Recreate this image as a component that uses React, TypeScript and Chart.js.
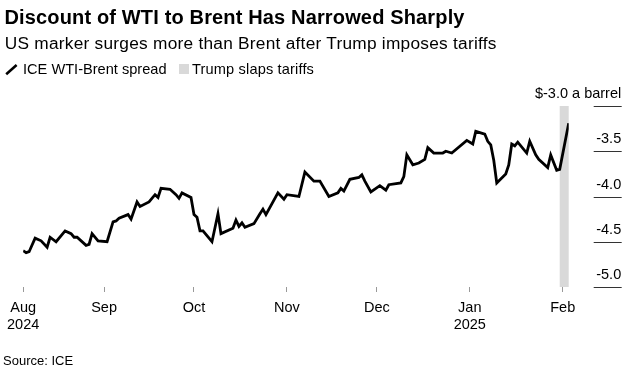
import { useEffect, useRef } from "react";
import { Chart, registerables } from "chart.js";

Chart.register(...registerables);

const FONT = "'Liberation Sans', Arial, Helvetica, sans-serif";

// ICE WTI-Brent spread, $ a barrel
const dates = [
  "2024-08-05", "2024-08-06", "2024-08-07", "2024-08-09", "2024-08-11", "2024-08-13", "2024-08-14",
  "2024-08-16", "2024-08-19", "2024-08-21", "2024-08-22", "2024-08-23", "2024-08-26", "2024-08-27",
  "2024-08-28", "2024-08-30", "2024-09-02", "2024-09-04", "2024-09-05", "2024-09-06", "2024-09-09",
  "2024-09-10", "2024-09-12", "2024-09-13", "2024-09-16", "2024-09-18", "2024-09-19", "2024-09-20",
  "2024-09-23", "2024-09-25", "2024-09-26", "2024-09-27", "2024-09-30", "2024-10-01", "2024-10-02",
  "2024-10-03", "2024-10-04", "2024-10-07", "2024-10-09", "2024-10-10", "2024-10-14", "2024-10-15",
  "2024-10-16", "2024-10-17", "2024-10-18", "2024-10-21", "2024-10-23", "2024-10-24", "2024-10-25",
  "2024-10-29", "2024-10-31", "2024-11-01", "2024-11-05", "2024-11-07", "2024-11-10", "2024-11-12",
  "2024-11-15", "2024-11-18", "2024-11-19", "2024-11-20", "2024-11-22", "2024-11-25", "2024-11-26",
  "2024-11-27", "2024-11-29", "2024-12-02", "2024-12-04", "2024-12-05", "2024-12-09", "2024-12-10",
  "2024-12-11", "2024-12-13", "2024-12-15", "2024-12-17", "2024-12-18", "2024-12-20", "2024-12-23",
  "2024-12-24", "2024-12-26", "2024-12-31", "2025-01-02", "2025-01-03", "2025-01-06", "2025-01-07",
  "2025-01-08", "2025-01-09", "2025-01-10", "2025-01-13", "2025-01-14", "2025-01-15", "2025-01-16",
  "2025-01-17", "2025-01-20", "2025-01-21", "2025-01-23", "2025-01-24", "2025-01-27", "2025-01-28",
  "2025-01-30", "2025-01-31", "2025-02-03",
];

const spread = [
  -4.60, -4.62, -4.61, -4.46, -4.49, -4.56, -4.45,
  -4.50, -4.38, -4.41, -4.45, -4.45, -4.54, -4.53,
  -4.41, -4.49, -4.50, -4.28, -4.27, -4.24, -4.20,
  -4.25, -4.06, -4.11, -4.06, -3.98, -4.01, -3.91,
  -3.92, -3.98, -4.02, -3.96, -4.01, -4.20, -4.23,
  -4.38, -4.38, -4.50, -4.19, -4.41, -4.35, -4.26,
  -4.33, -4.29, -4.34, -4.30, -4.19, -4.14, -4.20,
  -3.96, -4.03, -3.98, -4.00, -3.73, -3.83, -3.83,
  -4.00, -3.96, -3.91, -3.94, -3.81, -3.79, -3.76,
  -3.83, -3.95, -3.88, -3.93, -3.87, -3.85, -3.78,
  -3.54, -3.65, -3.63, -3.59, -3.46, -3.52, -3.52,
  -3.50, -3.52, -3.38, -3.42, -3.28, -3.31, -3.39,
  -3.43, -3.60, -3.85, -3.75, -3.65, -3.42, -3.44,
  -3.40, -3.52, -3.39, -3.54, -3.59, -3.68, -3.54,
  -3.71, -3.70, -3.19,
];

const xTickDates = ["2024-08-05", "2024-09-01", "2024-10-01", "2024-11-01", "2024-12-01", "2025-01-01", "2025-02-01"];
const xTickLabels = [["Aug", "2024"], ["Sep"], ["Oct"], ["Nov"], ["Dec"], ["Jan", "2025"], ["Feb"]];

const yTicks = [-3.0, -3.5, -4.0, -4.5, -5.0];
const yTickLabels = ["$-3.0 a barrel", "-3.5", "-4.0", "-4.5", "-5.0"];

const bandStart = "2025-01-31";
const bandEnd = "2025-02-03";

const ORIGIN = Date.UTC(2024, 7, 1);
function dayNum(s: string): number {
  const [y, m, d] = s.split("-").map(Number);
  return (Date.UTC(y, m - 1, d) - ORIGIN) / 86400000;
}

const bandPlugin = {
  id: "band",
  beforeDatasetsDraw(chart: any) {
    const { ctx, scales } = chart;
    const x1 = scales.x.getPixelForValue(dayNum(bandStart));
    const x2 = scales.x.getPixelForValue(dayNum(bandEnd));
    const y1 = scales.y.getPixelForValue(yTicks[0]);
    const y2 = scales.y.getPixelForValue(yTicks[yTicks.length - 1]);
    ctx.save();
    ctx.fillStyle = "#d9d9d9";
    ctx.fillRect(x1, y1, x2 - x1, y2 - y1);
    ctx.restore();
  },
};

const rightAxisPlugin = {
  id: "rightAxis",
  afterDraw(chart: any) {
    const { ctx, chartArea, scales } = chart;
    ctx.save();
    ctx.font = `14.5px ${FONT}`;
    ctx.textAlign = "right";
    ctx.textBaseline = "alphabetic";
    yTicks.forEach((v, i) => {
      const py = Math.round(scales.y.getPixelForValue(v)) + 0.5;
      ctx.strokeStyle = "#333";
      ctx.lineWidth = 1;
      ctx.beginPath();
      ctx.moveTo(chartArea.right + 25, py);
      ctx.lineTo(chartArea.right + 53, py);
      ctx.stroke();
      ctx.fillStyle = "#000";
      ctx.fillText(yTickLabels[i], chartArea.right + 52.5, py - 8.5);
    });
    ctx.restore();
  },
};

export default function App() {
  const ref = useRef<HTMLCanvasElement>(null);

  useEffect(() => {
    document.body.style.margin = "0";
    const canvas = ref.current;
    if (!canvas) return;
    const tickDays = xTickDates.map(dayNum);
    const chart = new Chart(canvas, {
      type: "line",
      data: {
        datasets: [
          {
            label: "ICE WTI-Brent spread",
            data: dates.map((d, i) => ({ x: dayNum(d), y: spread[i] })),
            borderColor: "#000",
            borderWidth: 2.8,
            pointRadius: 0,
            tension: 0,
            fill: false,
          },
        ],
      },
      options: {
        animation: false,
        responsive: false,
        devicePixelRatio: 1,
        layout: { padding: { left: 22.7, right: 65.3, top: 106, bottom: 0 } },
        plugins: { legend: { display: false }, tooltip: { enabled: false }, title: { display: false } },
        scales: {
          x: {
            type: "linear",
            min: dayNum(dates[0]),
            max: dayNum(dates[dates.length - 1]),
            border: { display: false },
            grid: { drawOnChartArea: false, drawTicks: true, tickLength: 5, color: "#999", lineWidth: 1 },
            ticks: {
              autoSkip: false,
              maxRotation: 0,
              padding: 7,
              color: "#000",
              font: { family: FONT, size: 14.5, lineHeight: "17px" },
              callback: (value: any) => {
                const idx = tickDays.indexOf(Number(value));
                return idx >= 0 ? xTickLabels[idx] : "";
              },
            },
            afterBuildTicks: (scale: any) => {
              scale.ticks = tickDays.map((v) => ({ value: v }));
            },
            afterFit: (scale: any) => {
              scale.height = 90;
            },
          },
          y: {
            display: false,
            min: yTicks[yTicks.length - 1],
            max: yTicks[0],
          },
        },
      },
      plugins: [bandPlugin, rightAxisPlugin],
    } as any);
    return () => chart.destroy();
  }, []);

  return (
    <div
      style={{
        position: "relative",
        width: 634,
        height: 377,
        overflow: "hidden",
        background: "#fff",
        color: "#000",
        fontFamily: FONT,
      }}
    >
      <canvas ref={ref} width={634} height={377} style={{ position: "absolute", left: 0, top: 0 }} />
      <div style={{ position: "absolute", left: 4.5, top: 5.4, fontSize: 20, lineHeight: "24px", fontWeight: 700, letterSpacing: "0.15px", whiteSpace: "nowrap" }}>
        Discount of WTI to Brent Has Narrowed Sharply
      </div>
      <div style={{ position: "absolute", left: 4.7, top: 33, fontSize: 17.3, lineHeight: "20px", letterSpacing: "0.25px", whiteSpace: "nowrap" }}>
        US marker surges more than Brent after Trump imposes tariffs
      </div>
      <svg style={{ position: "absolute", left: 5, top: 63 }} width={13} height={13}>
        <line x1={1.2} y1={11.2} x2={11.6} y2={2} stroke="#000" strokeWidth={2.6} />
      </svg>
      <div style={{ position: "absolute", left: 23, top: 59.9, fontSize: 14.6, lineHeight: "18px", whiteSpace: "nowrap" }}>
        ICE WTI-Brent spread
      </div>
      <div style={{ position: "absolute", left: 179, top: 64, width: 10, height: 10, background: "#d9d9d9" }} />
      <div style={{ position: "absolute", left: 192, top: 59.9, fontSize: 14.6, lineHeight: "18px", letterSpacing: "0.15px", whiteSpace: "nowrap" }}>
        Trump slaps tariffs
      </div>
      <div style={{ position: "absolute", left: 3, top: 353.2, fontSize: 13, lineHeight: "16px", whiteSpace: "nowrap" }}>
        Source: ICE
      </div>
    </div>
  );
}
